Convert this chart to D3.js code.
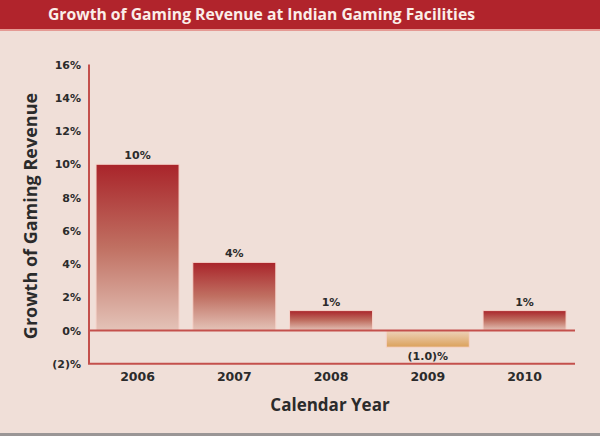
<!DOCTYPE html>
<html lang="en">
<head>
<meta charset="UTF-8">
<title>Growth of Gaming Revenue</title>
<script src="https://d3js.org/d3.v7.min.js"></script>
<style>
  body { margin: 0; background: #f0dfd8; }
  text { font-family: "Open Sans", "DejaVu Sans", sans-serif; font-weight: 700; fill: #2b2b2b; }
  .small { font-family: "DejaVu Sans", sans-serif; }
</style>
</head>
<body>
<svg id="chart" width="600" height="436"></svg>
<script>
  // chart data
  let years = ['2006', '2007', '2008', '2009', '2010'];
  let growth = [10, 4.1, 1.2, -1.0, 1.2];
  let valueLabels = ['10%', '4%', '1%', '(1.0)%', '1%'];
  let yTicks = [-2, 0, 2, 4, 6, 8, 10, 12, 14, 16];
  let yTickLabels = ['(2)%', '0%', '2%', '4%', '6%', '8%', '10%', '12%', '14%', '16%'];

  let svg = d3.select('#chart');
  let axisColor = '#c4504c';

  svg.append('rect').attr('width', 600).attr('height', 436).attr('fill', '#f0dfd8');
  svg.append('rect').attr('x', 0).attr('y', 433).attr('width', 600).attr('height', 3).attr('fill', '#9a9696');

  // title bar
  svg.append('rect').attr('width', 600).attr('height', 29).attr('fill', '#b1242c');
  svg.append('rect').attr('y', 29).attr('width', 600).attr('height', 2).attr('fill', '#e59a94');
  svg.append('text')
      .attr('x', 48).attr('y', 20)
      .attr('textLength', 427)
      .attr('lengthAdjust', 'spacingAndGlyphs')
      .style('fill', '#fbeee9')
      .style('font-size', '16.5px')
      .text('Growth of Gaming Revenue at Indian Gaming Facilities');

  let x = d3.scaleBand().domain(years).range([88.3, 573.8]).paddingInner(0.142).paddingOuter(0.08);
  let y = d3.scaleLinear().domain([-2, 16]).range([363.8, 64.5]);

  let defs = svg.append('defs');
  let red = defs.append('linearGradient').attr('id', 'gRed').attr('x1', 0).attr('y1', 0).attr('x2', 0).attr('y2', 1);
  red.append('stop').attr('offset', '0%').attr('stop-color', '#a9242a');
  red.append('stop').attr('offset', '50%').attr('stop-color', '#c07062');
  red.append('stop').attr('offset', '100%').attr('stop-color', '#e4c3b8');
  let gold = defs.append('linearGradient').attr('id', 'gGold').attr('x1', 0).attr('y1', 0).attr('x2', 0).attr('y2', 1);
  gold.append('stop').attr('offset', '0%').attr('stop-color', '#eed3bb');
  gold.append('stop').attr('offset', '100%').attr('stop-color', '#dba15a');

  // bars
  svg.append('g')
    .selectAll('rect')
    .data(growth)
    .join('rect')
    .attr('x', (d, i) => x(years[i]))
    .attr('width', x.bandwidth())
    .attr('y', d => y(Math.max(0, d)))
    .attr('height', d => Math.abs(y(d) - y(0)))
    .attr('fill', d => d < 0 ? 'url(#gGold)' : 'url(#gRed)')
    .attr('stroke', '#f6d4cb')
    .attr('stroke-width', 1);

  // value labels
  svg.append('g')
    .selectAll('text')
    .data(growth)
    .join('text')
    .attr('class', 'small')
    .attr('x', (d, i) => x(years[i]) + x.bandwidth() / 2)
    .attr('y', d => d < 0 ? y(d) + 13 : y(d) - 5)
    .attr('text-anchor', 'middle')
    .style('font-size', '11px')
    .text((d, i) => valueLabels[i]);

  // axes lines
  svg.append('line').attr('x1', 89).attr('x2', 89).attr('y1', y(16)).attr('y2', y(-2))
      .attr('stroke', axisColor).attr('stroke-width', 2);
  svg.append('line').attr('x1', 88).attr('x2', 575).attr('y1', y(0)).attr('y2', y(0))
      .attr('stroke', axisColor).attr('stroke-width', 2);
  svg.append('line').attr('x1', 88).attr('x2', 575).attr('y1', y(-2)).attr('y2', y(-2))
      .attr('stroke', axisColor).attr('stroke-width', 2);

  // y tick labels
  let yAxis = d3.axisLeft(y).tickValues(yTicks).tickSize(0).tickPadding(8)
      .tickFormat((d, i) => yTickLabels[i]);
  let gy = svg.append('g').attr('transform', 'translate(89,0)').call(yAxis);
  gy.select('.domain').remove();
  gy.selectAll('text').attr('class', 'small').style('font-size', '11px').style('font-family', null).attr('fill', null);

  // x tick labels
  let xAxis = d3.axisBottom(x).tickSize(0).tickPadding(8);
  let gx = svg.append('g').attr('transform', `translate(0,${y(-2)})`).call(xAxis);
  gx.select('.domain').remove();
  gx.selectAll('text').attr('class', 'small').style('font-size', '12.5px').style('font-family', null).attr('fill', null);

  // axis titles
  svg.append('text')
      .attr('transform', 'translate(37,216) rotate(-90)')
      .attr('text-anchor', 'middle')
      .style('font-size', '18px')
      .text('Growth of Gaming Revenue');
  svg.append('text')
      .attr('x', 330).attr('y', 411)
      .attr('text-anchor', 'middle')
      .style('font-size', '17px')
      .text('Calendar Year');
</script>
</body>
</html>
